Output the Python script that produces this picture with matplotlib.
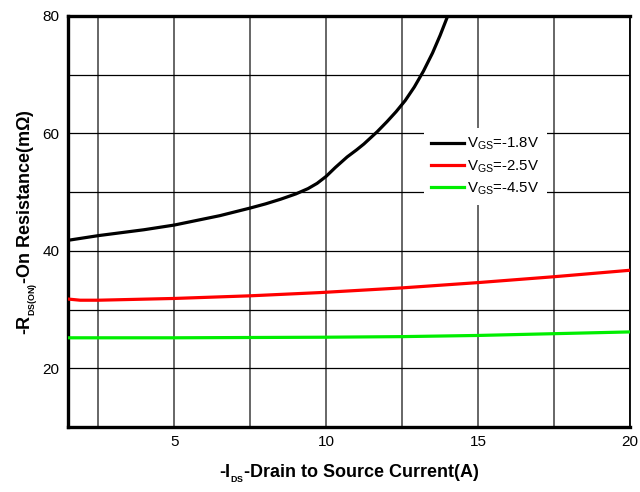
import matplotlib.pyplot as plt
from matplotlib.ticker import MultipleLocator

plt.rcParams['font.family'] = ['Liberation Sans', 'DejaVu Sans']
plt.rcParams['mathtext.fontset'] = 'custom'
plt.rcParams['mathtext.rm'] = 'Liberation Sans'
plt.rcParams['mathtext.bf'] = 'Liberation Sans:bold'
plt.rcParams['mathtext.it'] = 'Liberation Sans:italic'

# values
ids_18 = [1.5, 2.5, 4.0, 5.0, 6.5, 7.5, 8.0, 8.5, 9.0, 9.4, 9.7, 10.0, 10.3, 10.69, 11.0, 11.24, 11.68, 12.0, 12.3, 12.6, 12.9, 13.2, 13.5, 13.75, 14.0]
rds_18 = [41.8, 42.6, 43.6, 44.4, 46.0, 47.3, 48.0, 48.8, 49.7, 50.6, 51.5, 52.7, 54.2, 56.0, 57.2, 58.2, 60.3, 62.0, 63.7, 65.6, 67.9, 70.6, 73.7, 76.7, 80.0]

ids_25 = [1.5, 1.9, 2.5, 5.0, 7.5, 9.8, 12.5, 15.0, 17.5, 20.0]
rds_25 = [31.8, 31.6, 31.6, 31.9, 32.35, 32.9, 33.7, 34.6, 35.6, 36.7]

ids_45 = [1.5, 5.0, 7.5, 10.0, 12.5, 15.0, 17.5, 20.0]
rds_45 = [25.2, 25.2, 25.25, 25.3, 25.4, 25.6, 25.9, 26.2]

labels = [r'V$_{\mathrm{GS}}$=-1.8V', r'V$_{\mathrm{GS}}$=-2.5V', r'V$_{\mathrm{GS}}$=-4.5V']

fig = plt.figure(figsize=(6.4, 4.92), dpi=100)
ax = fig.add_axes([0.10625, 0.132, 0.8781, 0.8355])

ax.plot(ids_18, rds_18, color='black', lw=2.3, label=labels[0], zorder=3)
ax.plot(ids_25, rds_25, color='#ff0000', lw=2.3, label=labels[1], zorder=3)
ax.plot(ids_45, rds_45, color='#00ee00', lw=2.3, label=labels[2], zorder=3)

ax.set_xlim(1.5, 20)
ax.set_ylim(10, 80)
ax.xaxis.set_major_locator(MultipleLocator(5))
ax.xaxis.set_minor_locator(MultipleLocator(2.5))
ax.yaxis.set_major_locator(MultipleLocator(20))
ax.yaxis.set_minor_locator(MultipleLocator(10))

ax.grid(True, axis='x', which='both', color='#5a5a5a', lw=1.3)
ax.grid(True, axis='y', which='both', color='black', lw=0.9)
ax.tick_params(which='both', length=0, labelsize=11, pad=6)

for side in ['left', 'bottom', 'top']:
    ax.spines[side].set_linewidth(2.4)
ax.spines['right'].set_linewidth(1.3)

ax.set_xlabel(r'-I$_{_{\mathbf{DS}}}$-Drain to Source Current(A)', fontsize=13,
              fontweight='bold', labelpad=10)
ax.set_ylabel(r'-R$_{_{\mathbf{DS(ON)}}}$-On Resistance(mΩ)', fontsize=13,
              fontweight='bold', labelpad=2)

leg = ax.legend(loc='upper left', bbox_to_anchor=(0.62, 0.745), frameon=True,
                fancybox=False, edgecolor='white', framealpha=1,
                fontsize=10.8, handlelength=2.2, handletextpad=0.2,
                labelspacing=0.4, borderpad=0.5)
leg.get_frame().set_linewidth(0)

fig.savefig('out.png', dpi=100)
